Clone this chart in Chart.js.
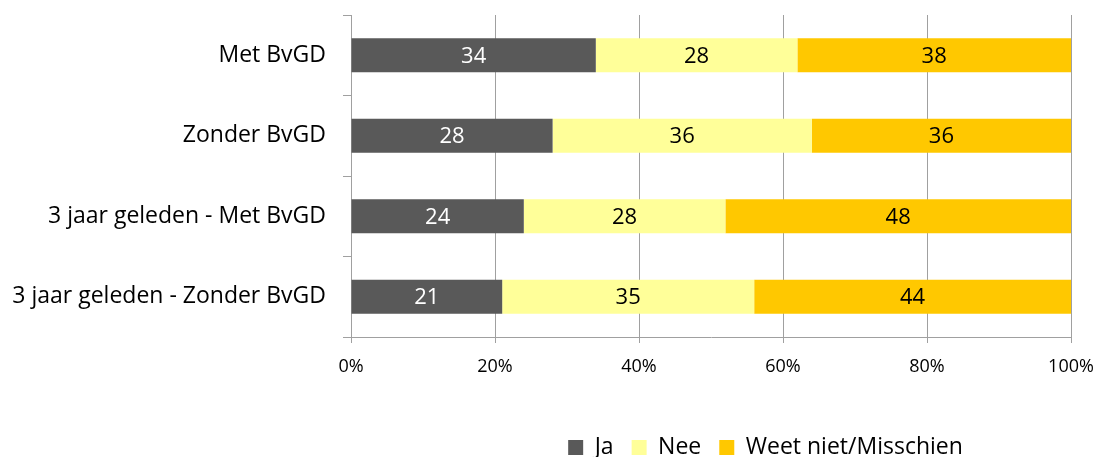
<!DOCTYPE html>
<html>
<head>
<meta charset="utf-8">
<script src="https://cdn.jsdelivr.net/npm/chart.js@4/dist/chart.umd.min.js"></script>
<style>
    html, body { margin: 0; padding: 0; background: #fff; }
    #wrap { width: 1098px; height: 457px; }
</style>
</head>
<body>
<div id="wrap"><canvas id="chart"></canvas></div>
<script>
const categories = ['Met BvGD', 'Zonder BvGD', '3 jaar geleden - Met BvGD', '3 jaar geleden - Zonder BvGD'];
const ja = [34, 28, 24, 21];
const nee = [28, 36, 28, 35];
const weetNiet = [38, 36, 48, 44];
const xTicks = [0, 20, 40, 60, 80, 100];

const FONT = '"Open Sans", sans-serif';
const GRID = '#a0a0a0';

// draws the value in the middle of each bar segment
const barLabels = {
    id: 'barLabels',
    afterDatasetsDraw(chart) {
        const ctx = chart.ctx;
        ctx.save();
        ctx.font = '22px ' + FONT;
        ctx.textAlign = 'center';
        ctx.textBaseline = 'middle';
        chart.data.datasets.forEach((ds, i) => {
            chart.getDatasetMeta(i).data.forEach((bar, j) => {
                ctx.fillStyle = ds.labelColor;
                ctx.fillText(ds.data[j], (bar.x + bar.base) / 2, bar.y + 1);
            });
        });
        ctx.restore();
    }
};

// legend sits right of centre (and a bit lower) in the original
const shiftLegend = {
    id: 'shiftLegend',
    afterLayout(chart) {
        const lg = chart.legend;
        lg.left += 230;
        lg.right += 230;
        lg.top += 12;
        lg.bottom += 12;
    }
};

new Chart(document.getElementById('chart'), {
    type: 'bar',
    data: {
        labels: categories,
        datasets: [
            { label: 'Ja', data: ja, backgroundColor: '#595959', labelColor: '#ffffff' },
            { label: 'Nee', data: nee, backgroundColor: '#ffff99', labelColor: '#000000' },
            { label: 'Weet niet/Misschien', data: weetNiet, backgroundColor: '#ffc800', labelColor: '#000000' }
        ]
    },
    options: {
        indexAxis: 'y',
        responsive: true,
        maintainAspectRatio: false,
        animation: false,
        datasets: {
            bar: { categoryPercentage: 1, barPercentage: 0.42 }
        },
        layout: { padding: { top: 15, right: 27, left: 0, bottom: 0 } },
        scales: {
            x: {
                stacked: true,
                min: 0,
                max: 100,
                afterBuildTicks: (axis) => { axis.ticks = xTicks.map(v => ({ value: v })); },
                afterFit: (axis) => {
                    axis.height = 69;
                    axis.paddingLeft = 0;
                    axis.paddingRight = 0;
                },
                grid: { color: GRID, lineWidth: 1, tickLength: 6, drawTicks: true },
                border: { color: GRID, width: 1 },
                ticks: {
                    color: '#000',
                    padding: 13,
                    font: { family: FONT, size: 18 },
                    callback: (v) => v + '%'
                }
            },
            y: {
                stacked: true,
                afterFit: (axis) => {
                    axis.width = 351;
                    axis.paddingTop = 0;
                    axis.paddingBottom = 0;
                },
                grid: { offset: true, drawOnChartArea: false, color: GRID, tickLength: 8 },
                border: { color: GRID, width: 1 },
                ticks: {
                    color: '#000',
                    padding: 17,
                    font: { family: FONT, size: 23 }
                }
            }
        },
        plugins: {
            legend: {
                position: 'bottom',
                labels: {
                    color: '#000',
                    boxWidth: 15,
                    boxHeight: 15,
                    padding: 18,
                    font: { family: FONT, size: 23 }
                }
            },
            tooltip: { enabled: false }
        }
    },
    plugins: [barLabels, shiftLegend]
});
</script>
</body>
</html>
